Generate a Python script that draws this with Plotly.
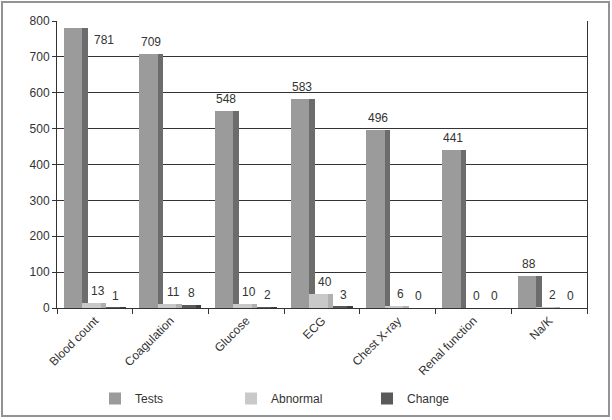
import plotly.graph_objects as go

categories = ["Blood count", "Coagulation", "Glucose", "ECG", "Chest X-ray", "Renal function", "Na/K"]
tests = [781, 709, 548, 583, 496, 441, 88]
abnormal = [13, 11, 10, 40, 6, 0, 2]
change = [1, 8, 2, 3, 0, 0, 0]
yticks = [0, 100, 200, 300, 400, 500, 600, 700, 800]

FONT = "Liberation Sans, Arial, sans-serif"
TXT = "#333333"

# plot geometry (px)
L, R, T, B = 57, 25, 21, 112
W, H = 612 - L - R, 420 - T - B
CAT_PX = W / len(categories)

def u(px):
    return px / CAT_PX

series = [
    # name, values, front colour, side colour, front start px (from category start), rank, label xshift
    ("Tests", tests, "#9b9b9b", "#6c6c6c", 6.5, 1, -20),
    ("Change", change, "#5a5a5a", "#3e3e3e", 44.5, 3, 21),
    ("Abnormal", abnormal, "#c9c9c9", "#b0b0b0", 25.0, 2, 3),
]
FRONT_W, SIDE_W = 18.5, 5.5

fig = go.Figure()
for name, vals, cf, cs, start, rank, _ in series:
    off = u(start) - 0.5
    fig.add_trace(go.Bar(
        x=categories, y=vals, name=name, marker=dict(color=cf, line=dict(width=0)),
        offset=off, width=u(FRONT_W), legendrank=rank, showlegend=True,
    ))
    fig.add_trace(go.Bar(
        x=categories, y=vals, name=name + " side", marker=dict(color=cs, line=dict(width=0)),
        offset=off + u(FRONT_W), width=u(SIDE_W), showlegend=False, hoverinfo="skip",
    ))

# value labels
for name, vals, cf, cs, start, rank, xs in series:
    for c, v in zip(categories, vals):
        if v > 750:
            fig.add_annotation(x=c, y=v, text=str(v), showarrow=False, xanchor="center",
                               yanchor="top", xshift=9, yshift=-3,
                               font=dict(family=FONT, size=12, color=TXT))
        else:
            fig.add_annotation(x=c, y=v, text=str(v), showarrow=False, xanchor="center",
                               yanchor="bottom", xshift=xs, yshift=3,
                               font=dict(family=FONT, size=12, color=TXT))

# outer frame
def px_x(px):
    return (px - L) / W

def px_y(py):
    return (420 - B - py) / H

fig.add_shape(type="rect", xref="paper", yref="paper",
              x0=px_x(2), x1=px_x(609), y0=px_y(416), y1=px_y(2),
              line=dict(color="#939393", width=2), fillcolor="rgba(0,0,0,0)", layer="below")

fig.update_layout(
    width=612, height=420,
    margin=dict(l=L, r=R, t=T, b=B, autoexpand=False),
    paper_bgcolor="white", plot_bgcolor="white",
    barmode="overlay", bargap=0,
    font=dict(family=FONT, size=11, color=TXT),
    showlegend=True,
    legend=dict(orientation="h", x=px_x(95), y=px_y(384), xanchor="left", yanchor="top",
                entrywidth=91, entrywidthmode="pixels", traceorder="normal",
                font=dict(family=FONT, size=12, color=TXT), itemwidth=30,
                bgcolor="rgba(0,0,0,0)"),
    xaxis=dict(type="category", tickson="boundaries", ticks="outside", ticklen=5,
               tickcolor="#333333", showline=True, linecolor="#333333", linewidth=1,
               tickangle=-45, showgrid=False, mirror=False, automargin=False,
               tickfont=dict(family=FONT, size=12, color=TXT), range=[-0.5, 6.5]),
    yaxis=dict(range=[0, 800], tickvals=yticks, showgrid=True, gridcolor="#333333",
               gridwidth=1, showline=True, linecolor="#333333", linewidth=1, mirror=True,
               ticks="outside", ticklen=4, tickcolor="#333333", zeroline=False,
               automargin=False,
               tickfont=dict(family=FONT, size=12, color=TXT)),
)

fig.write_html("out.html")
